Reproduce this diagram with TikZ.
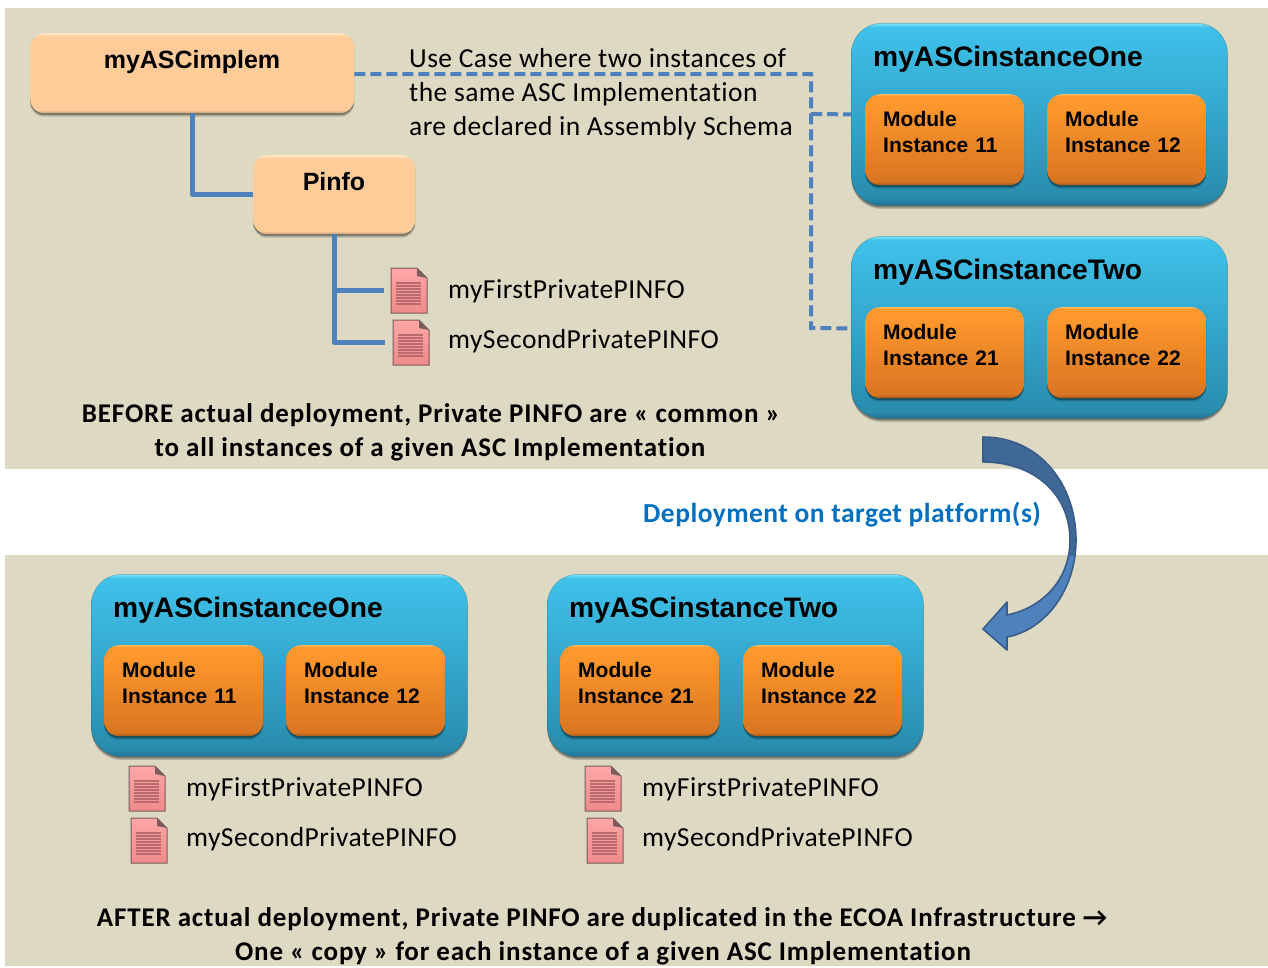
\documentclass[tikz,border=0pt]{standalone}
\usepackage{fontspec}
\setmainfont{Carlito}
\newfontfamily\boxfont{Liberation Sans}
\newfontfamily\bodyfont[Ligatures=CommonOff,LetterSpace=1.6]{Carlito}
\newfontfamily\capfont[Ligatures=CommonOff,LetterSpace=3.2,BoldFont={Carlito Bold}]{Carlito}
\newfontfamily\depfont[Ligatures=CommonOff,LetterSpace=1.7,BoldFont={Carlito Bold}]{Carlito}
\usetikzlibrary{shadows,calc}
\definecolor{panel}{HTML}{DDD9C3}
\definecolor{wire}{HTML}{4F81BD}
\definecolor{wiredark}{HTML}{385D8A}
\definecolor{arrowdark}{HTML}{3F6797}
\definecolor{deploy}{HTML}{0070C0}
\definecolor{docline}{HTML}{7A5C5C}
\definecolor{doctop}{HTML}{FFA6A6}
\definecolor{docbot}{HTML}{EE8A8A}
\definecolor{docstripe}{HTML}{B86A6E}
\definecolor{outeredge}{HTML}{1F6F8C}
\pgfdeclareverticalshading{blueshade}{100bp}{rgb(0bp)=(0.13,0.45,0.58); rgb(25bp)=(0.13,0.45,0.58); rgb(27bp)=(0.16,0.55,0.68); rgb(70bp)=(0.24,0.74,0.90); rgb(74bp)=(0.25,0.76,0.92); rgb(75bp)=(0.50,0.90,0.98); rgb(100bp)=(0.50,0.90,0.98)}
\pgfdeclareverticalshading{orangeshade}{100bp}{rgb(0bp)=(0.62,0.34,0.10); rgb(25bp)=(0.62,0.34,0.10); rgb(27bp)=(0.85,0.46,0.13); rgb(71bp)=(1.0,0.60,0.18); rgb(74bp)=(1.0,0.60,0.18); rgb(75bp)=(1.0,0.72,0.36); rgb(100bp)=(1.0,0.72,0.36)}
\pgfdeclareverticalshading{peachshade}{100bp}{rgb(0bp)=(0.74,0.60,0.47); rgb(25bp)=(0.74,0.60,0.47); rgb(27bp)=(1.0,0.80,0.60); rgb(71bp)=(1.0,0.80,0.60); rgb(73bp)=(1.0,0.81,0.62); rgb(75bp)=(1.0,0.90,0.76); rgb(100bp)=(1.0,0.90,0.76)}
\tikzset{
  x=1pt,y=-1pt,
  softshadow/.style={drop shadow={shadow xshift=0pt,shadow yshift=-3.5pt,opacity=.18,fill=black},
                     drop shadow={shadow xshift=0pt,shadow yshift=-2pt,opacity=.32,fill=black}},
  outerbox/.style={rectangle,anchor=north west,inner sep=0pt,minimum width=376pt,minimum height=182pt,
                   rounded corners=30pt,shading=blueshade,draw=outeredge,draw opacity=.35,line width=.8pt,softshadow},
  modbox/.style={rectangle,anchor=north west,inner sep=0pt,minimum width=159pt,minimum height=91pt,
                 rounded corners=15pt,shading=orangeshade,softshadow},
  implbox/.style={rectangle,anchor=north west,inner sep=0pt,rounded corners=14pt,shading=peachshade,softshadow},
  boxtitle/.style={anchor=base west,inner sep=0pt,font=\boxfont\bfseries\fontsize{28.2}{30}\selectfont},
  implttl/.style={anchor=base,inner sep=0pt,font=\boxfont\bfseries\fontsize{25}{28}\selectfont},
  modtext/.style={anchor=base west,inner sep=0pt,font=\boxfont\bfseries\fontsize{21}{26}\selectfont,align=left,
                  text width=130pt},
  bodytext/.style={anchor=base west,inner sep=0pt,font=\bodyfont\fontsize{27.5}{30}\selectfont},
  captext/.style={anchor=base,inner sep=0pt,font=\capfont\bfseries\fontsize{27}{30}\selectfont},
  solidwire/.style={draw=wire,line width=4.6pt,line join=round},
  dashwire/.style={draw=wire,line width=4pt,dash pattern=on 11pt off 5pt},
  docbox/.style={rectangle,anchor=north west,inner sep=0pt,minimum width=36pt,minimum height=45pt},
}
\newcommand{\instbox}[4]{% name, x, y, title
  \node[outerbox] (#1) at (#2,#3) {};
  \node[boxtitle] (#1t) at ($(#2,#3)+(22,43)$) {#4};
}
\newcommand{\modulebox}[4]{% name, x, y, number
  \node[modbox] (#1) at (#2,#3) {};
  \node[modtext] (#1a) at ($(#2,#3)+(18,32)$) {Module};
  \node[modtext] (#1b) at ($(#2,#3)+(18,58)$) {Instance #4};
}
\newcommand{\docicon}[3]{% name, x, y
  \node[docbox] (#1) at (#2,#3) {};
  \begin{scope}[shift={(#2,#3)}]
    \shade[top color=doctop,bottom color=docbot,draw=docline,line width=1pt]
      (0,0) -- (26,0) -- (36,10) -- (36,45) -- (0,45) -- cycle;
    \fill[docline] (26,0) -- (36,10) -- (26,8) -- cycle;
    \foreach \yy in {15,18,...,36} \draw[docstripe,line width=1.6pt] (5,\yy) -- (30,\yy);
  \end{scope}
}
\begin{document}
\begin{tikzpicture}
\useasboundingbox (0,0) rectangle (1268,967);
\fill[white] (0,0) rectangle (1268,967);
\fill[panel] (5,8) rectangle (1268,469);
\fill[panel] (5,555) rectangle (1268,966);

% top left boxes
\node[implbox,minimum width=324pt,minimum height=80pt] (impl) at (30,33) {};
\node[implttl] (implt) at (192,68) {myASCimplem};
\node[implbox,minimum width=162pt,minimum height=79pt] (pinfo) at (253,155) {};
\node[implttl] (pinfot) at (334,190) {Pinfo};

\docicon{doca}{391}{268}
\docicon{docb}{393}{320}
\node[bodytext] (docat) at (448,298) {myFirstPrivatePINFO};
\node[bodytext] (docbt) at (448,348) {mySecondPrivatePINFO};

\draw[solidwire] (impl.south) |- (pinfo.west);
\draw[solidwire,shorten >=7pt] (pinfo.south) |- (doca.west);
\draw[solidwire,shorten >=8pt] (pinfo.south) |- (docb.west);

% instance boxes top
\instbox{ione}{851}{23}{myASCinstanceOne}
\modulebox{m11}{865}{94}{11}
\modulebox{m12}{1047}{94}{12}
\instbox{itwo}{851}{236}{myASCinstanceTwo}
\modulebox{m21}{865}{307}{21}
\modulebox{m22}{1047}{307}{22}

% dashed connectors
\coordinate (bus) at (811,74);
\coordinate (busa) at (811,114);
\coordinate (busb) at (811,328);
\draw[dashwire] ([yshift=-1pt]impl.east) -- (bus) -- (busb) -- ([yshift=-1pt]itwo.west);
\draw[dashwire] (busa) -- (ione.west);

\node[bodytext] (uc1) at (409,67) {Use Case where two instances of};
\node[bodytext] (uc2) at (409,101) {the same ASC Implementation};
\node[bodytext] (uc3) at (409,135) {are declared in Assembly Schema};

\node[captext] (cap1) at (431,422) {BEFORE actual deployment, Private PINFO are « common »};
\node[captext] (cap2) at (430,456) {to all instances of a given ASC Implementation};

% curved arrow
\def\arrowpath{(983,437) .. controls (1040,437) and (1076,485) .. (1076,540)
  .. controls (1076,590) and (1045,630) .. (1007,637)
  -- (1007,650) -- (983,629) -- (1007,602) -- (1007,615)
  .. controls (1042,608) and (1070,580) .. (1070,540)
  .. controls (1070,495) and (1035,462) .. (983,462) -- cycle}
\fill[wire] \arrowpath;
\begin{scope}
  \clip (970,430) rectangle (1090,555);
  \fill[arrowdark] \arrowpath;
\end{scope}
\draw[wiredark,line width=1.6pt,line join=round] \arrowpath;

\node[anchor=base west,inner sep=0pt,text=deploy,font=\depfont\bfseries\fontsize{27.5}{30}\selectfont] (dep) at (643,522) {Deployment on target platform(s)};

% bottom
\instbox{bone}{91}{574}{myASCinstanceOne}
\modulebox{n11}{104}{645}{11}
\modulebox{n12}{286}{645}{12}
\instbox{btwo}{547}{574}{myASCinstanceTwo}
\modulebox{n21}{560}{645}{21}
\modulebox{n22}{743}{645}{22}

\docicon{docc}{129}{766}
\docicon{docd}{131}{818}
\docicon{doce}{585}{766}
\docicon{docf}{587}{818}
\node[bodytext] (docct) at (186,796) {myFirstPrivatePINFO};
\node[bodytext] (docdt) at (186,846) {mySecondPrivatePINFO};
\node[bodytext] (docet) at (642,796) {myFirstPrivatePINFO};
\node[bodytext] (docft) at (642,846) {mySecondPrivatePINFO};

\node[captext] (cap3) at (602,926) {AFTER actual deployment, Private PINFO are duplicated in the ECOA Infrastructure →};
\node[captext] (cap4) at (603,960) {One « copy » for each instance of a given ASC Implementation};
\end{tikzpicture}
\end{document}
